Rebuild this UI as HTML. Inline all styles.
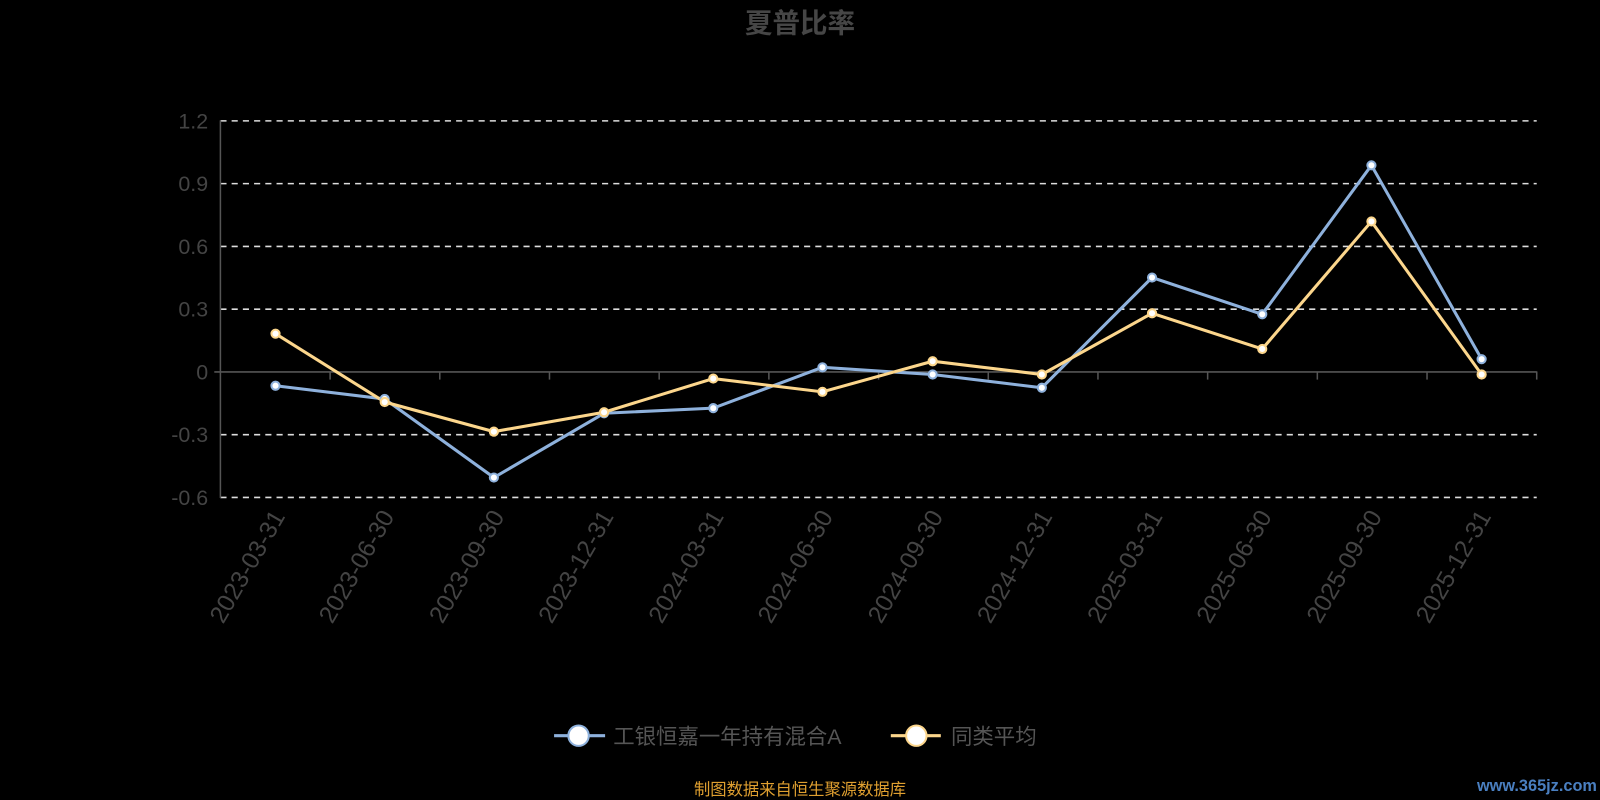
<!DOCTYPE html>
<html><head><meta charset="utf-8"><style>
html,body{margin:0;padding:0;background:#000;}
svg{display:block;font-family:"Liberation Sans","Noto Sans CJK SC",sans-serif;}
</style></head><body>
<svg width="1600" height="800" viewBox="0 0 1600 800" xmlns="http://www.w3.org/2000/svg">
<rect width="1600" height="800" fill="#000"/>
<g transform="scale(1.0204)">
<text x="784" y="32" text-anchor="middle" font-size="27" font-weight="bold" fill="#464646">夏普比率</text>
<g stroke="#ddd" stroke-width="1.5" stroke-dasharray="6,5">
<line x1="216" y1="118.5" x2="1506" y2="118.5"/>
<line x1="216" y1="180" x2="1506" y2="180"/>
<line x1="216" y1="241.5" x2="1506" y2="241.5"/>
<line x1="216" y1="303" x2="1506" y2="303"/>
<line x1="216" y1="426" x2="1506" y2="426"/>
<line x1="216" y1="487.5" x2="1506" y2="487.5"/>
</g>
<g stroke="#555" stroke-width="1.5">
<line x1="216" y1="118" x2="216" y2="488"/>
<line x1="210" y1="364.5" x2="1506" y2="364.5"/>
<line x1="323.5" y1="364" x2="323.5" y2="372"/><line x1="431" y1="364" x2="431" y2="372"/>
<line x1="538.5" y1="364" x2="538.5" y2="372"/><line x1="646" y1="364" x2="646" y2="372"/>
<line x1="753.5" y1="364" x2="753.5" y2="372"/><line x1="861" y1="364" x2="861" y2="372"/>
<line x1="968.5" y1="364" x2="968.5" y2="372"/><line x1="1076" y1="364" x2="1076" y2="372"/>
<line x1="1183.5" y1="364" x2="1183.5" y2="372"/><line x1="1291" y1="364" x2="1291" y2="372"/>
<line x1="1398.5" y1="364" x2="1398.5" y2="372"/><line x1="1506" y1="364" x2="1506" y2="372"/>
</g>
<g font-size="21" fill="#444" text-anchor="end">
<text x="204" y="126">1.2</text><text x="204" y="187">0.9</text><text x="204" y="249">0.6</text>
<text x="204" y="310">0.3</text><text x="204" y="372">0</text><text x="204" y="433">-0.3</text><text x="204" y="495">-0.6</text>
</g>
<g font-size="24" fill="#444" text-anchor="end">
<text transform="translate(280,506) rotate(-60)">2023-03-31</text>
<text transform="translate(387,506) rotate(-60)">2023-06-30</text>
<text transform="translate(495,506) rotate(-60)">2023-09-30</text>
<text transform="translate(602,506) rotate(-60)">2023-12-31</text>
<text transform="translate(710,506) rotate(-60)">2024-03-31</text>
<text transform="translate(817,506) rotate(-60)">2024-06-30</text>
<text transform="translate(925,506) rotate(-60)">2024-09-30</text>
<text transform="translate(1032,506) rotate(-60)">2024-12-31</text>
<text transform="translate(1140,506) rotate(-60)">2025-03-31</text>
<text transform="translate(1247,506) rotate(-60)">2025-06-30</text>
<text transform="translate(1355,506) rotate(-60)">2025-09-30</text>
<text transform="translate(1462,506) rotate(-60)">2025-12-31</text>
</g>
<polyline fill="none" stroke="#8eb1dc" stroke-width="3" points="270,378 377,391 484,468 592,405 699,400 806,360 914,367 1021,380 1129,272 1237,308 1344,162 1452,352"/>
<polyline fill="none" stroke="#fcd68c" stroke-width="3" points="270,327 377,394 484,423 592,404 699,371 806,384 914,354 1021,367 1129,307 1237,342 1344,217 1452,367"/>
<g fill="#fff" stroke="#8eb1dc" stroke-width="2">
<circle cx="270" cy="378" r="4"/><circle cx="377" cy="391" r="4"/><circle cx="484" cy="468" r="4"/><circle cx="592" cy="405" r="4"/><circle cx="699" cy="400" r="4"/><circle cx="806" cy="360" r="4"/><circle cx="914" cy="367" r="4"/><circle cx="1021" cy="380" r="4"/><circle cx="1129" cy="272" r="4"/><circle cx="1237" cy="308" r="4"/><circle cx="1344" cy="162" r="4"/><circle cx="1452" cy="352" r="4"/>
</g>
<g fill="#fff" stroke="#fcd68c" stroke-width="2">
<circle cx="270" cy="327" r="4"/><circle cx="377" cy="394" r="4"/><circle cx="484" cy="423" r="4"/><circle cx="592" cy="404" r="4"/><circle cx="699" cy="371" r="4"/><circle cx="806" cy="384" r="4"/><circle cx="914" cy="354" r="4"/><circle cx="1021" cy="367" r="4"/><circle cx="1129" cy="307" r="4"/><circle cx="1237" cy="342" r="4"/><circle cx="1344" cy="217" r="4"/><circle cx="1452" cy="367" r="4"/>
</g>
<line x1="543" y1="721" x2="593" y2="721" stroke="#8eb1dc" stroke-width="3"/>
<circle cx="567" cy="721" r="10" fill="#fff" stroke="#8eb1dc" stroke-width="2"/>
<text x="601" y="729" font-size="21" fill="#555">工银恒嘉一年持有混合A</text>
<line x1="873" y1="721" x2="922" y2="721" stroke="#fcd68c" stroke-width="3"/>
<circle cx="898" cy="721" r="10" fill="#fff" stroke="#fcd68c" stroke-width="2"/>
<text x="932" y="729" font-size="21" fill="#555">同类平均</text>
<text x="784" y="779" text-anchor="middle" font-size="16" fill="#e0a030">制图数据来自恒生聚源数据库</text>
<text x="1565" y="775" text-anchor="end" font-size="16" font-weight="bold" fill="#4a7fc0">www.365jz.com</text>
</g>
</svg>
</body></html>
